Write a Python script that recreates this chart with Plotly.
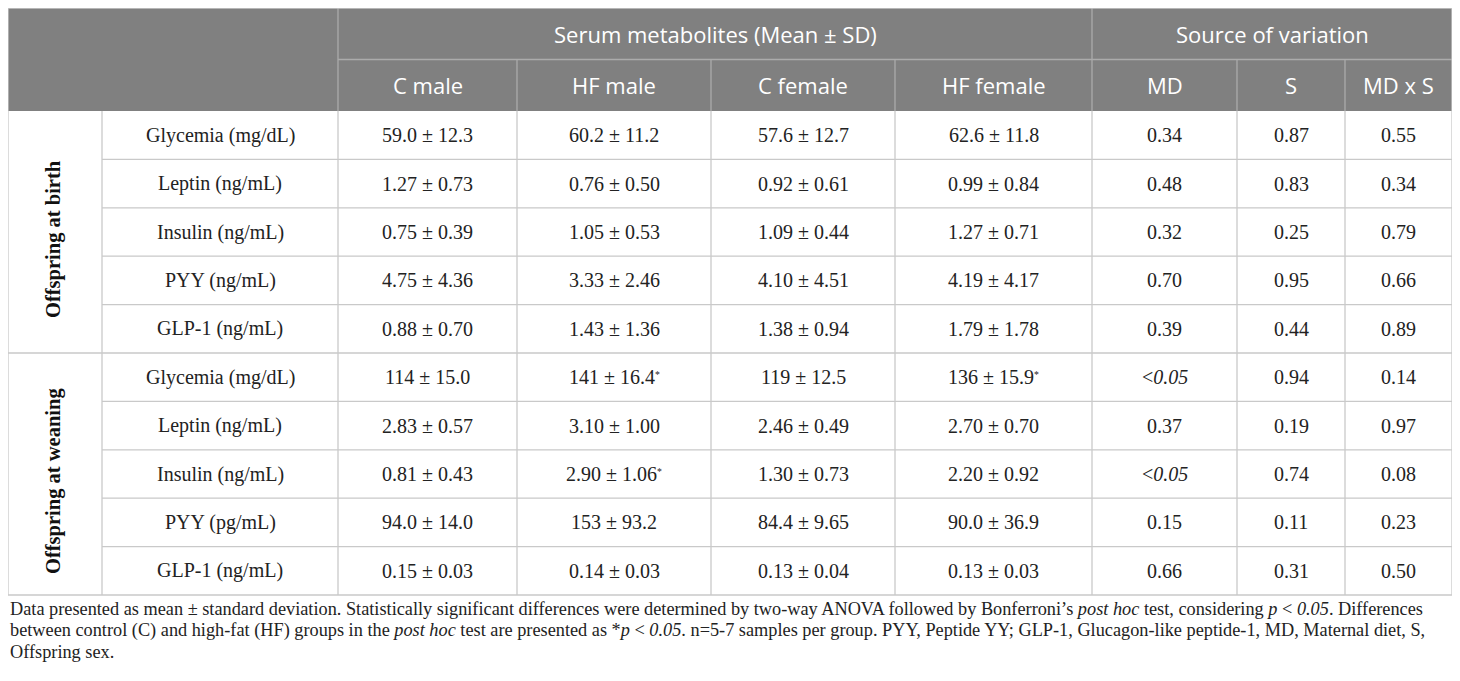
import plotly.graph_objects as go

# Table content
groups = ["Offspring at birth", "Offspring at weaning"]
metabolites = [
    "Glycemia (mg/dL)", "Leptin (ng/mL)", "Insulin (ng/mL)", "PYY (ng/mL)", "GLP-1 (ng/mL)",
    "Glycemia (mg/dL)", "Leptin (ng/mL)", "Insulin (ng/mL)", "PYY (pg/mL)", "GLP-1 (ng/mL)",
]
c_male = ["59.0 ± 12.3", "1.27 ± 0.73", "0.75 ± 0.39", "4.75 ± 4.36", "0.88 ± 0.70",
          "114 ± 15.0", "2.83 ± 0.57", "0.81 ± 0.43", "94.0 ± 14.0", "0.15 ± 0.03"]
hf_male = ["60.2 ± 11.2", "0.76 ± 0.50", "1.05 ± 0.53", "3.33 ± 2.46", "1.43 ± 1.36",
           "141 ± 16.4*", "3.10 ± 1.00", "2.90 ± 1.06*", "153 ± 93.2", "0.14 ± 0.03"]
c_female = ["57.6 ± 12.7", "0.92 ± 0.61", "1.09 ± 0.44", "4.10 ± 4.51", "1.38 ± 0.94",
            "119 ± 12.5", "2.46 ± 0.49", "1.30 ± 0.73", "84.4 ± 9.65", "0.13 ± 0.04"]
hf_female = ["62.6 ± 11.8", "0.99 ± 0.84", "1.27 ± 0.71", "4.19 ± 4.17", "1.79 ± 1.78",
             "136 ± 15.9*", "2.70 ± 0.70", "2.20 ± 0.92", "90.0 ± 36.9", "0.13 ± 0.03"]
md_p = ["0.34", "0.48", "0.32", "0.70", "0.39", "<0.05", "0.37", "<0.05", "0.15", "0.66"]
s_p = ["0.87", "0.83", "0.25", "0.95", "0.44", "0.94", "0.19", "0.74", "0.11", "0.31"]
mdxs_p = ["0.55", "0.34", "0.79", "0.66", "0.89", "0.14", "0.97", "0.08", "0.23", "0.50"]

group_header = ["Serum metabolites (Mean ± SD)", "Source of variation"]
col_headers = ["C male", "HF male", "C female", "HF female", "MD", "S", "MD x S"]

footnote = [
    "Data presented as mean ± standard deviation. Statistically significant differences were determined by two-way ANOVA followed by Bonferroni’s <i>post hoc</i> test, considering <i>p</i> &lt; <i>0.05</i>. Differences",
    "between control (C) and high-fat (HF) groups in the <i>post hoc</i> test are presented as *<i>p</i> &lt; <i>0.05</i>. n=5-7 samples per group. PYY, Peptide YY; GLP-1, Glucagon-like peptide-1, MD, Maternal diet, S,",
    "Offspring sex.",
]

# Layout geometry (page pixels)
col_edges = [8, 102, 338, 517, 711, 895, 1092, 1237, 1345, 1452]
top, head1, head2 = 8, 59.5, 111
row_h = 48.4

HEADER_BG = "#808080"
HEADER_LINE = "#ababab"
BODY_LINE = "#c9c9c9"
serif = "Liberation Serif"
sans = "Open Sans"

n_rows = len(metabolites)
bottom = head2 + n_rows * row_h

fig = go.Figure()
shapes = []
annotations = []


def fmt(s):
    s = s.replace("<", "&lt;")
    if s.startswith("&lt;"):
        s = "&lt;<i>" + s[4:] + "</i>"
    if s.endswith("*"):
        s = s[:-1] + "<span style='font-size:14px'><sup>*</sup></span>"
    return s


def line(x0, y0, x1, y1, color):
    shapes.append(dict(type="line", x0=x0, y0=y0, x1=x1, y1=y1,
                       line=dict(color=color, width=1.3), layer="above"))


def text(x, y, s, size, family, color="#222222", angle=0, anchor="center"):
    annotations.append(dict(x=x, y=y, text=s, showarrow=False, textangle=angle,
                            xanchor=anchor, yanchor="middle",
                            font=dict(size=size, family=family, color=color)))


# header background
shapes.append(dict(type="rect", x0=col_edges[0], y0=top, x1=col_edges[-1], y1=head2,
                   fillcolor=HEADER_BG, line=dict(width=0), layer="below"))

# header lines
line(col_edges[2], head1, col_edges[-1], head1, HEADER_LINE)
line(col_edges[2], top, col_edges[2], head2, HEADER_LINE)
line(col_edges[6], top, col_edges[6], head2, HEADER_LINE)
for i in [3, 4, 5, 7, 8]:
    line(col_edges[i], head1, col_edges[i], head2, HEADER_LINE)

# header text
text((col_edges[2] + col_edges[6]) / 2, (top + head1) / 2, group_header[0], 22, sans, "white")
text((col_edges[6] + col_edges[9]) / 2, (top + head1) / 2, group_header[1], 22, sans, "white")
for i, h in enumerate(col_headers):
    text((col_edges[i + 2] + col_edges[i + 3]) / 2, (head1 + head2) / 2, h, 22, sans, "white")

# body lines
for r in range(1, n_rows):
    y = head2 + r * row_h
    x_start = col_edges[0] if r == 5 else col_edges[1]
    line(x_start, y, col_edges[-1], y, BODY_LINE)
for x in col_edges[1:-1]:
    line(x, head2, x, bottom, BODY_LINE)
# outer border
line(col_edges[0], top, col_edges[-1], top, BODY_LINE)
line(col_edges[0], bottom, col_edges[-1], bottom, BODY_LINE)
line(col_edges[0], top, col_edges[0], bottom, BODY_LINE)
line(col_edges[-1], top, col_edges[-1], bottom, BODY_LINE)

# group labels (rotated, sit a little below the cell middle as in the source)
for g, name in enumerate(groups):
    yc = head2 + (g * 5 + 2.5) * row_h + 7
    text((col_edges[0] + col_edges[1]) / 2 - 2, yc, "<b>" + name + "</b>", 20.5, serif, "#111111", angle=-90)

# body cells
columns = [metabolites, c_male, hf_male, c_female, hf_female, md_p, s_p, mdxs_p]
for c, values in enumerate(columns):
    xc = (col_edges[c + 1] + col_edges[c + 2]) / 2
    for r, v in enumerate(values):
        yc = head2 + (r + 0.5) * row_h
        text(xc, yc, fmt(v), 20, serif)

# footnote
for i, s in enumerate(footnote):
    text(col_edges[0], 609 + i * 21.5, s, 18.3, serif, "#222222", anchor="left")

# the page body has an 8px margin, so the axes map straight to page pixels
fig.update_layout(
    width=1452, height=673,
    margin=dict(l=0, r=0, t=0, b=0),
    paper_bgcolor="white", plot_bgcolor="white",
    xaxis=dict(range=[8, 1460], visible=False, fixedrange=True),
    yaxis=dict(range=[681, 8], visible=False, fixedrange=True),
    shapes=shapes, annotations=annotations,
    showlegend=False,
)

fig.write_html("out.html")
